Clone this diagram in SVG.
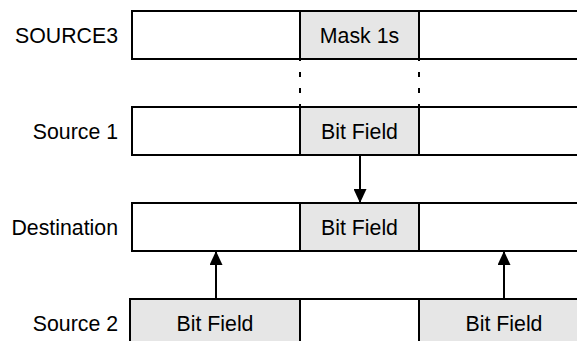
<svg xmlns="http://www.w3.org/2000/svg" width="577" height="341" viewBox="0 0 577 341">
  <style>
    .lbl { font-family: "Liberation Sans", Arial, sans-serif; font-size: 21.3px; fill: #000; }
    .lbl-r { text-anchor: end; }
    .lbl-c { text-anchor: middle; }
    .cell { fill: #fff; stroke: #000; stroke-width: 2; }
    .field { fill: #e6e6e6; stroke: #000; stroke-width: 2; }
    .conn { stroke: #000; stroke-width: 2; fill: none; }
    .guide { stroke: #000; stroke-width: 2; stroke-dasharray: 5 11; fill: none; }
  </style>
  <defs>
    <marker id="arrow" viewBox="0 0 14 13" refX="14" refY="6.5" markerWidth="14" markerHeight="13" markerUnits="userSpaceOnUse" orient="auto">
      <path d="M0,0 L14,6.5 L0,13 Z" fill="#000"/>
    </marker>
  </defs>

  <rect width="577" height="341" fill="#fff"/>

  <!-- SOURCE3 register -->
  <g id="source3">
    <rect class="cell" x="132" y="11" width="168" height="48"/>
    <rect class="field" x="300" y="11" width="119" height="48"/>
    <rect class="cell" x="419" y="11" width="170" height="48"/>
    <text class="lbl lbl-r" x="118" y="42.5">SOURCE3</text>
    <text class="lbl lbl-c" x="359.5" y="42.5">Mask 1s</text>
  </g>

  <!-- Source 1 register -->
  <g id="source1">
    <rect class="cell" x="132" y="107" width="168" height="48"/>
    <rect class="field" x="300" y="107" width="119" height="48"/>
    <rect class="cell" x="419" y="107" width="170" height="48"/>
    <text class="lbl lbl-r" x="118" y="138.5">Source 1</text>
    <text class="lbl lbl-c" x="359.5" y="138.5">Bit Field</text>
  </g>

  <!-- Destination register -->
  <g id="destination">
    <rect class="cell" x="132" y="203" width="168" height="48"/>
    <rect class="field" x="300" y="203" width="119" height="48"/>
    <rect class="cell" x="419" y="203" width="170" height="48"/>
    <text class="lbl lbl-r" x="118" y="234.5">Destination</text>
    <text class="lbl lbl-c" x="359.5" y="234.5">Bit Field</text>
  </g>

  <!-- Source 2 register -->
  <g id="source2">
    <rect class="field" x="130" y="299" width="170" height="48"/>
    <rect class="cell" x="300" y="299" width="119" height="48"/>
    <rect class="field" x="419" y="299" width="170" height="48"/>
    <text class="lbl lbl-r" x="118" y="330.5">Source 2</text>
    <text class="lbl lbl-c" x="215" y="330.5">Bit Field</text>
    <text class="lbl lbl-c" x="504" y="330.5">Bit Field</text>
  </g>

  <!-- connectors -->
  <g id="connectors">
    <line class="guide" x1="300" y1="56" x2="300" y2="110"/>
    <line class="guide" x1="419" y1="56" x2="419" y2="110"/>
    <line class="conn" x1="360" y1="156" x2="360" y2="203" marker-end="url(#arrow)"/>
    <line class="conn" x1="216" y1="298" x2="216" y2="251" marker-end="url(#arrow)"/>
    <line class="conn" x1="504" y1="298" x2="504" y2="251" marker-end="url(#arrow)"/>
  </g>
</svg>
